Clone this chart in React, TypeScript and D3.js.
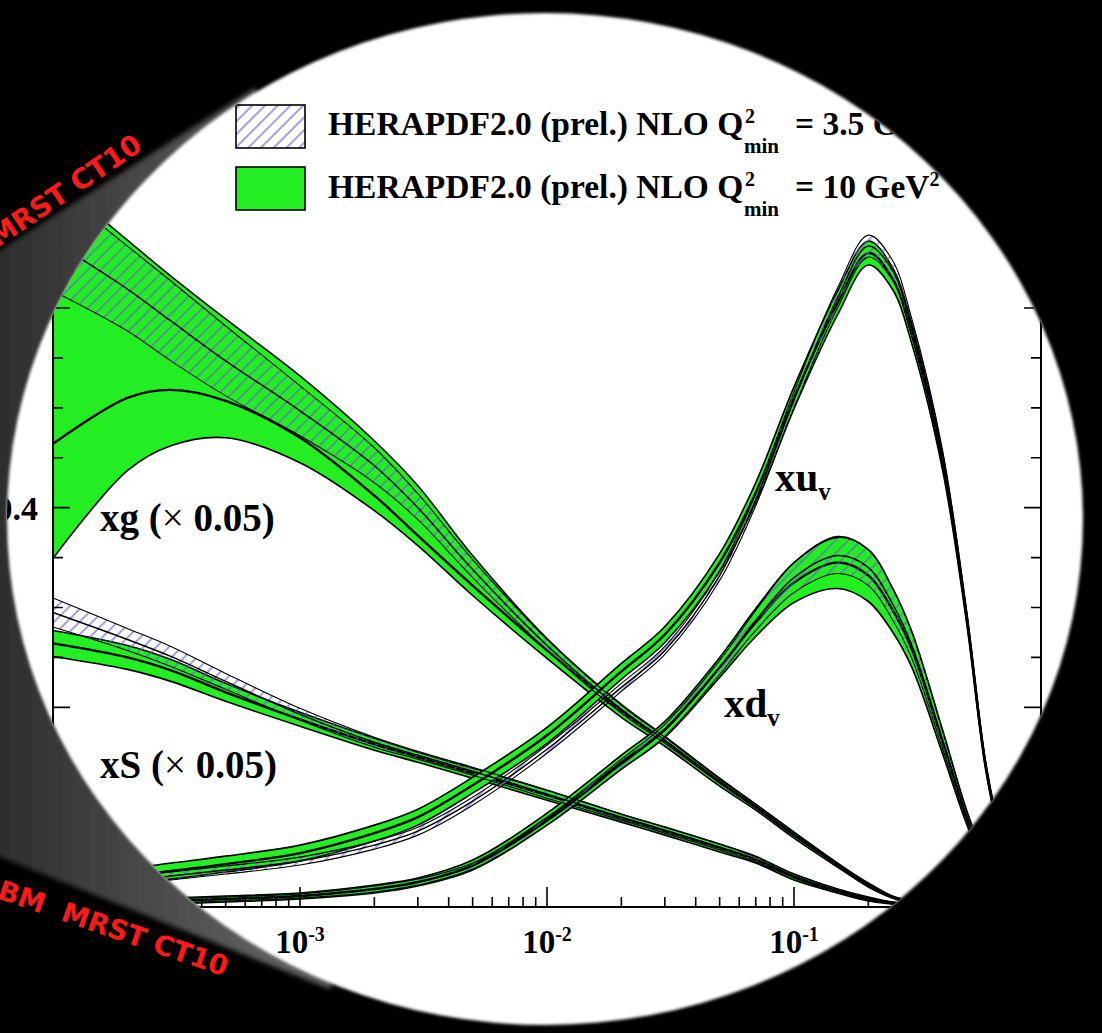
import React, { useEffect, useRef } from 'react';
import * as d3 from 'd3';

const W = 1102;
const H = 1033;

// shared x grid (log x)
const xGrid = [1e-4, 2e-4, 3e-4, 5e-4, 1e-3, 2e-3, 3e-3, 5e-3, 1e-2, 2e-2, 3e-2, 5e-2, 7e-2, 0.1, 0.15, 0.2, 0.25, 0.3, 0.4, 0.5, 0.6, 0.7, 0.8, 0.9, 1.0];

// Q2min = 10 GeV2 (green bands)
const xuvC = [0.022, 0.030, 0.036, 0.043, 0.054, 0.074, 0.090, 0.122, 0.172, 0.236, 0.273, 0.345, 0.415, 0.510, 0.605, 0.655, 0.630, 0.574, 0.445, 0.290, 0.138, 0.062, 0.022, 0.005, 0];
const xuvErr = [0.008, 0.008, 0.008, 0.008, 0.008, 0.008, 0.008, 0.008, 0.008, 0.008, 0.008, 0.009, 0.010, 0.011, 0.012, 0.012, 0.011, 0.010, 0.008, 0.006, 0.004, 0.003, 0.002, 0.001, 0];
const xdvC = [0.003, 0.005, 0.006, 0.008, 0.011, 0.018, 0.025, 0.042, 0.088, 0.145, 0.178, 0.240, 0.285, 0.325, 0.345, 0.332, 0.298, 0.258, 0.165, 0.090, 0.042, 0.018, 0.006, 0.001, 0];
const xdvErr = [0.003, 0.003, 0.003, 0.003, 0.003, 0.004, 0.004, 0.005, 0.006, 0.007, 0.008, 0.010, 0.014, 0.020, 0.026, 0.026, 0.022, 0.018, 0.012, 0.007, 0.004, 0.002, 0.001, 0.0005, 0];
const xgC = [0.464, 0.510, 0.518, 0.507, 0.470, 0.412, 0.372, 0.322, 0.257, 0.196, 0.166, 0.125, 0.100, 0.072, 0.042, 0.022, 0.010, 0.005, 0.001, 0, 0, 0, 0, 0, 0];
const xgLo = [0.349, 0.437, 0.462, 0.470, 0.445, 0.397, 0.362, 0.312, 0.249, 0.190, 0.161, 0.121, 0.097, 0.069, 0.040, 0.020, 0.009, 0.004, 0.001, 0, 0, 0, 0, 0, 0];
const xgHi = [0.730, 0.668, 0.632, 0.589, 0.532, 0.467, 0.422, 0.352, 0.269, 0.203, 0.171, 0.129, 0.103, 0.075, 0.044, 0.024, 0.011, 0.006, 0.002, 0.0005, 0, 0, 0, 0, 0];
const xsC = [0.264, 0.250, 0.237, 0.215, 0.188, 0.163, 0.150, 0.134, 0.112, 0.089, 0.076, 0.059, 0.047, 0.030, 0.016, 0.008, 0.004, 0.002, 0, 0, 0, 0, 0, 0, 0];
const xsErr = [0.013, 0.012, 0.011, 0.009, 0.007, 0.006, 0.005, 0.005, 0.005, 0.004, 0.004, 0.004, 0.003, 0.003, 0.002, 0.002, 0.001, 0.001, 0, 0, 0, 0, 0, 0, 0];

// Q2min = 3.5 GeV2 (hatched bands)
const xuvHC = [0.019, 0.026, 0.031, 0.037, 0.046, 0.062, 0.076, 0.106, 0.158, 0.220, 0.257, 0.332, 0.408, 0.508, 0.610, 0.662, 0.638, 0.580, 0.450, 0.292, 0.139, 0.063, 0.022, 0.005, 0];
const xuvHErr = [0.004, 0.004, 0.004, 0.004, 0.004, 0.004, 0.004, 0.004, 0.004, 0.004, 0.004, 0.005, 0.006, 0.008, 0.010, 0.011, 0.010, 0.009, 0.007, 0.005, 0.003, 0.002, 0.001, 0.001, 0];
const xdvHC = [0.003, 0.005, 0.006, 0.008, 0.011, 0.018, 0.025, 0.041, 0.086, 0.143, 0.177, 0.240, 0.287, 0.330, 0.352, 0.340, 0.304, 0.262, 0.167, 0.091, 0.042, 0.018, 0.006, 0.001, 0];
const xdvHErr = [0.002, 0.002, 0.002, 0.002, 0.002, 0.003, 0.003, 0.003, 0.004, 0.005, 0.006, 0.007, 0.010, 0.015, 0.018, 0.018, 0.016, 0.013, 0.009, 0.005, 0.003, 0.002, 0.001, 0.0005, 0];
const xgHC = [0.667, 0.619, 0.587, 0.547, 0.497, 0.442, 0.400, 0.338, 0.262, 0.198, 0.167, 0.126, 0.101, 0.073, 0.043, 0.022, 0.010, 0.005, 0.001, 0, 0, 0, 0, 0, 0];
const xgHLo = [0.617, 0.577, 0.547, 0.512, 0.472, 0.425, 0.388, 0.330, 0.257, 0.194, 0.164, 0.124, 0.099, 0.071, 0.042, 0.021, 0.009, 0.004, 0.001, 0, 0, 0, 0, 0, 0];
const xgHHi = [0.722, 0.662, 0.627, 0.582, 0.522, 0.460, 0.414, 0.348, 0.268, 0.202, 0.170, 0.128, 0.103, 0.075, 0.044, 0.023, 0.011, 0.006, 0.002, 0.0005, 0, 0, 0, 0, 0];
const xsHC = [0.295, 0.268, 0.251, 0.226, 0.193, 0.165, 0.152, 0.136, 0.113, 0.090, 0.077, 0.060, 0.048, 0.031, 0.016, 0.008, 0.004, 0.002, 0, 0, 0, 0, 0, 0, 0];
const xsHErr = [0.0145, 0.011, 0.010, 0.008, 0.006, 0.005, 0.004, 0.004, 0.004, 0.003, 0.003, 0.003, 0.003, 0.002, 0.002, 0.001, 0.001, 0.001, 0, 0, 0, 0, 0, 0, 0];

// axes / labels
const xDecades = [-4, -3, -2, -1];
const xLabelDecades = [-3, -2, -1];
const yLabelVals = [0.4];
const yLabels = ['0.4'];
const legendQ = ['3.5', '10'];
const redLabels = ['MRST CT10', 'BM  MRST CT10'];

const serif = '"Liberation Serif", "Times New Roman", serif';
const GREEN = '#22ee22';

const App = () => {
  const ref = useRef<SVGSVGElement>(null);

  useEffect(() => {
    document.body.style.margin = '0';
    const svg = d3.select(ref.current);
    svg.selectAll('*').remove();
    svg.attr('width', W).attr('height', H);

    const defs = svg.append('defs');
    const hatch = defs.append('pattern')
      .attr('id', 'hatch')
      .attr('patternUnits', 'userSpaceOnUse')
      .attr('width', 9).attr('height', 9)
      .attr('patternTransform', 'rotate(45)');
    hatch.append('line')
      .attr('x1', 1).attr('y1', 0).attr('x2', 1).attr('y2', 9)
      .attr('stroke', '#6b5fd3').attr('stroke-width', 1.2);

    // magnifier lens
    const cx = 545, cy = 519, rx = 538, ry = 506;
    defs.append('clipPath').attr('id', 'lens')
      .append('ellipse').attr('cx', cx).attr('cy', cy).attr('rx', rx).attr('ry', ry);

    const grad = defs.append('linearGradient')
      .attr('id', 'cone').attr('gradientUnits', 'userSpaceOnUse')
      .attr('x1', -20).attr('y1', 0).attr('x2', 260).attr('y2', 0);
    grad.append('stop').attr('offset', 0).attr('stop-color', '#2a2a2a');
    grad.append('stop').attr('offset', 1).attr('stop-color', '#5e5e5e');

    defs.append('filter').attr('id', 'soft')
      .attr('x', '-20%').attr('y', '-20%').attr('width', '140%').attr('height', '140%')
      .append('feGaussianBlur').attr('stdDeviation', 2.5);
    defs.append('filter').attr('id', 'edge')
      .attr('x', '-5%').attr('y', '-5%').attr('width', '110%').attr('height', '110%')
      .append('feGaussianBlur').attr('stdDeviation', 1.5);

    svg.append('rect').attr('width', W).attr('height', H).attr('fill', '#000');

    const cone: [number, number][] = [[-20, 263], [255, 88], [cx, cy], [330, 989], [-20, 849]];
    svg.append('path')
      .attr('d', d3.line()(cone) + 'Z')
      .attr('fill', 'url(#cone)')
      .attr('filter', 'url(#soft)');

    svg.append('ellipse')
      .attr('cx', cx).attr('cy', cy).attr('rx', rx).attr('ry', ry)
      .attr('fill', '#fff')
      .attr('filter', 'url(#edge)');

    const g = svg.append('g').attr('clip-path', 'url(#lens)');

    const x = d3.scaleLog().domain([1e-4, 1]).range([53, 1041]);
    const y = d3.scaleLinear().domain([0, 0.6]).range([907, 308]);

    type P = { x: number; c: number; lo: number; hi: number };
    const pts = (c: number[], lo: number[], hi: number[]): P[] =>
      xGrid.map((xv, i) => ({ x: xv, c: c[i], lo: lo[i], hi: hi[i] }));
    const sym = (c: number[], e: number[]) =>
      pts(c, c.map((v, i) => Math.max(0, v - e[i])), c.map((v, i) => v + e[i]));

    const curve = d3.curveCatmullRom.alpha(0.5);
    const area = d3.area<P>()
      .x(d => x(d.x)).y0(d => y(d.lo)).y1(d => y(d.hi))
      .curve(curve);
    const line = (key: 'c' | 'lo' | 'hi') => d3.line<P>()
      .x(d => x(d.x)).y(d => y(d[key]))
      .curve(curve);

    const greenBands = [
      pts(xgC, xgLo, xgHi),
      sym(xsC, xsErr),
      sym(xdvC, xdvErr),
      sym(xuvC, xuvErr),
    ];
    const hatchBands = [
      pts(xgHC, xgHLo, xgHHi),
      sym(xsHC, xsHErr),
      sym(xdvHC, xdvHErr),
      sym(xuvHC, xuvHErr),
    ];

    greenBands.forEach(b => {
      g.append('path').attr('d', area(b)).attr('fill', GREEN);
      ['lo', 'hi'].forEach(k => {
        g.append('path').attr('d', line(k as 'lo')(b))
          .attr('fill', 'none').attr('stroke', '#000').attr('stroke-width', 1.6);
      });
      g.append('path').attr('d', line('c')(b))
        .attr('fill', 'none').attr('stroke', '#000').attr('stroke-width', 2.4);
    });
    hatchBands.forEach(b => {
      g.append('path').attr('d', area(b)).attr('fill', 'url(#hatch)');
      ['lo', 'hi'].forEach(k => {
        g.append('path').attr('d', line(k as 'lo')(b))
          .attr('fill', 'none').attr('stroke', '#000').attr('stroke-width', 1.1);
      });
      g.append('path').attr('d', line('c')(b))
        .attr('fill', 'none').attr('stroke', '#000').attr('stroke-width', 1.5);
    });

    // frame
    const [x0, x1] = x.range();
    const yTop = y(1.0);
    g.append('rect')
      .attr('x', x0).attr('y', yTop).attr('width', x1 - x0).attr('height', y(0) - yTop)
      .attr('fill', 'none').attr('stroke', '#000').attr('stroke-width', 2);

    // x ticks
    const xTickVals: number[] = [];
    xDecades.forEach(e => { for (let k = 1; k <= 9; k++) xTickVals.push(k * Math.pow(10, e)); });
    xTickVals.forEach((v, i) => {
      const major = i % 9 === 0;
      g.append('line')
        .attr('x1', x(v)).attr('x2', x(v))
        .attr('y1', y(0)).attr('y2', y(0) - (major ? 20 : 10))
        .attr('stroke', '#000').attr('stroke-width', 1.6);
    });
    xLabelDecades.forEach(e => {
      const t = g.append('text')
        .attr('x', x(Math.pow(10, e))).attr('y', 953)
        .attr('text-anchor', 'middle')
        .attr('font-family', serif).attr('font-weight', 'bold').attr('font-size', 33);
      t.append('tspan').text('10');
      t.append('tspan').attr('dy', -12).attr('font-size', 20).text(String(e));
    });

    // y ticks
    d3.range(0, 1.0001, 0.05).forEach(v => {
      const major = Math.abs(v / 0.2 - Math.round(v / 0.2)) < 1e-6;
      const len = major ? 17 : 10;
      g.append('line').attr('x1', x0).attr('x2', x0 + len).attr('y1', y(v)).attr('y2', y(v))
        .attr('stroke', '#000').attr('stroke-width', 1.6);
      g.append('line').attr('x1', x1).attr('x2', x1 - len).attr('y1', y(v)).attr('y2', y(v))
        .attr('stroke', '#000').attr('stroke-width', 1.6);
    });
    yLabelVals.forEach((v, i) => {
      g.append('text')
        .attr('x', 38).attr('y', y(v) + 12)
        .attr('text-anchor', 'end')
        .attr('font-family', serif).attr('font-weight', 'bold').attr('font-size', 34)
        .text(yLabels[i]);
    });

    // legend
    legendQ.forEach((q, i) => {
      const by = 105 + i * 62;
      if (i === 0) {
        g.append('rect').attr('x', 236).attr('y', by).attr('width', 69).attr('height', 43).attr('fill', '#fff');
      }
      g.append('rect').attr('x', 236).attr('y', by).attr('width', 69).attr('height', 43)
        .attr('fill', i === 0 ? 'url(#hatch)' : GREEN)
        .attr('stroke', '#000').attr('stroke-width', 1.6);
      const base = 135 + i * 63;
      const txt = (tx: number, ty: number, size: number, s: string) =>
        g.append('text').attr('x', tx).attr('y', ty)
          .attr('font-family', serif).attr('font-weight', 'bold').attr('font-size', size).text(s);
      txt(328, base, 33.5, 'HERAPDF2.0 (prel.) NLO Q');
      txt(745, base - 12, 20, '2');
      txt(744, base + 18, 21, 'min');
      const t = txt(795, base, 33.5, `= ${q} GeV`);
      t.append('tspan').attr('dy', -12).attr('font-size', 20).text('2');
    });

    // curve labels
    const lab = (tx: number, ty: number, size: number) =>
      g.append('text').attr('x', tx).attr('y', ty)
        .attr('font-family', serif).attr('font-weight', 'bold').attr('font-size', size);
    [['xg', 531], ['xS', 778]].forEach(([name, ty]) => {
      const t = lab(100, ty as number, 39);
      t.append('tspan').text(`${name} (`);
      t.append('tspan').attr('font-weight', 'normal').text('×');
      t.append('tspan').text(' 0.05)');
    });
    [['xu', 775, 491], ['xd', 724, 717]].forEach(([name, tx, ty]) => {
      const t = lab(tx as number, ty as number, 41);
      t.append('tspan').text(name as string);
      t.append('tspan').attr('dy', 9).attr('font-size', 25).text('v');
    });

    // red annotations outside lens
    svg.append('text')
      .attr('transform', 'translate(-3,248) rotate(-34)')
      .attr('font-family', '"DejaVu Sans", sans-serif').attr('font-weight', 'bold')
      .attr('font-size', 28).attr('fill', '#ff1a1a')
      .text(redLabels[0]);
    svg.append('text')
      .attr('transform', 'translate(-4,898) rotate(19)')
      .attr('font-family', '"DejaVu Sans", sans-serif').attr('font-weight', 'bold')
      .attr('font-size', 27.5).attr('fill', '#ff1a1a')
      .attr('xml:space', 'preserve').style('white-space', 'pre')
      .text(redLabels[1]);
  }, []);

  return <svg ref={ref} style={{ position: 'absolute', left: 0, top: 0, display: 'block' }} />;
};

export default App;
